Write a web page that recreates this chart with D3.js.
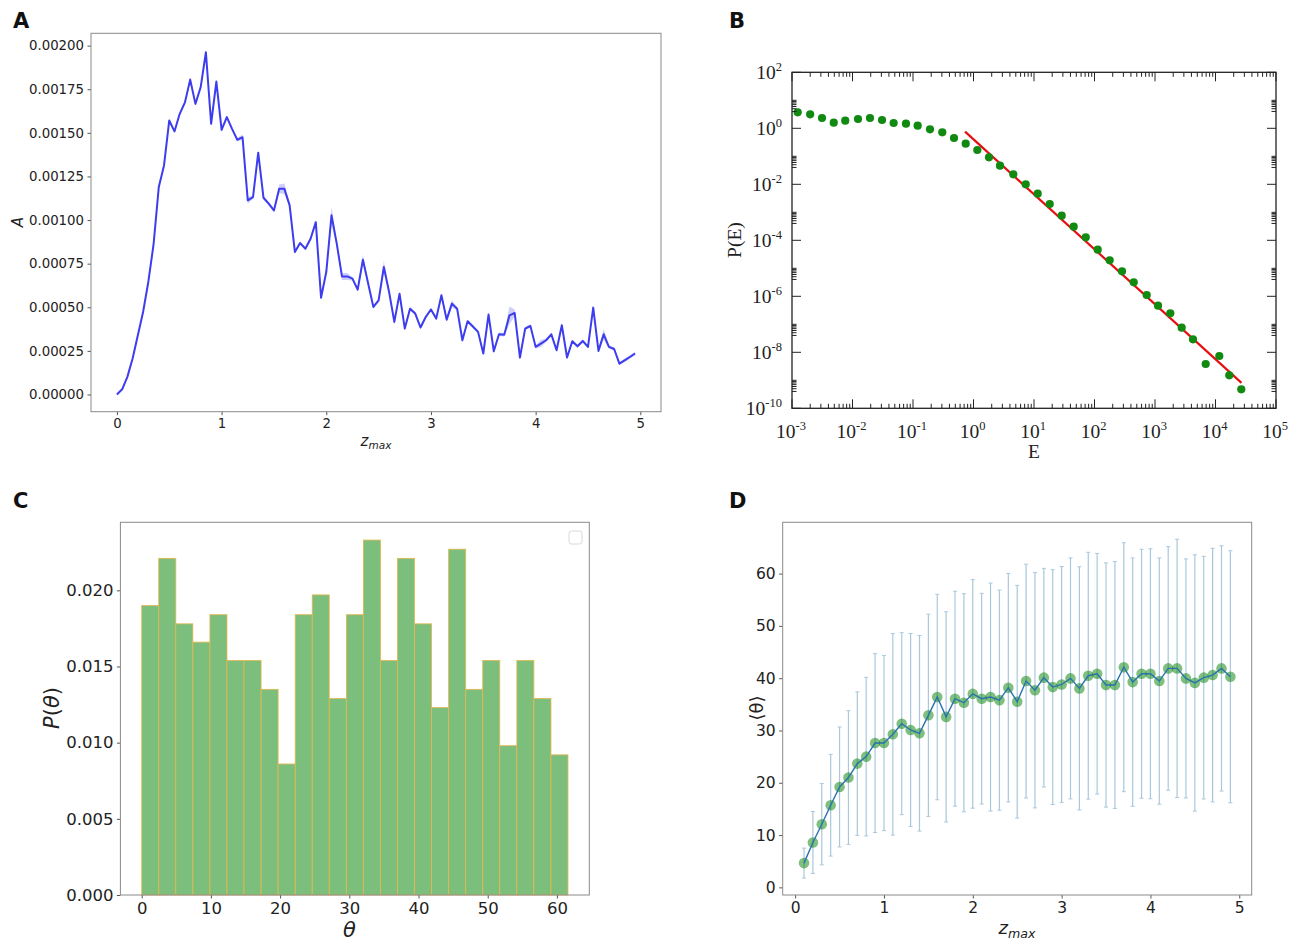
<!DOCTYPE html>
<html>
<head>
<meta charset="utf-8">
<script src="https://d3js.org/d3.v7.min.js"></script>
<style>
  body { margin: 0; background: #fff; }
  svg { display: block; }
  .mpl text { font-family: 'DejaVu Sans', sans-serif; fill: #222; }
  .grace text { font-family: 'Liberation Serif', 'Times New Roman', serif; fill: #222; }
  .letter { font-family: 'DejaVu Sans', sans-serif; font-weight: bold; font-size: 21px; fill: #111; }
</style>
</head>
<body>
<svg width="1302" height="944"></svg>
<script>
// ---- panel A : A vs z_max (values in units of 1e-3) ----
const zA = [0, 0.05, 0.1, 0.15, 0.2, 0.25, 0.3, 0.35, 0.4, 0.45,
  0.5, 0.55, 0.6, 0.65, 0.7, 0.75, 0.8, 0.85, 0.9, 0.95,
  1, 1.05, 1.1, 1.15, 1.2, 1.25, 1.3, 1.35, 1.4, 1.45,
  1.5, 1.55, 1.6, 1.65, 1.7, 1.75, 1.8, 1.85, 1.9, 1.95,
  2, 2.05, 2.1, 2.15, 2.2, 2.25, 2.3, 2.35, 2.4, 2.45,
  2.5, 2.55, 2.6, 2.65, 2.7, 2.75, 2.8, 2.85, 2.9, 2.95,
  3, 3.05, 3.1, 3.15, 3.2, 3.25, 3.3, 3.35, 3.4, 3.45,
  3.5, 3.55, 3.6, 3.65, 3.7, 3.75, 3.8, 3.85, 3.9, 3.95,
  4, 4.05, 4.1, 4.15, 4.2, 4.25, 4.3, 4.35, 4.4, 4.45,
  4.5, 4.55, 4.6, 4.65, 4.7, 4.75, 4.8, 4.85, 4.9, 4.95]
const valA = [0, 0.030, 0.101, 0.206, 0.340, 0.473, 0.645, 0.860, 1.189, 1.313,
  1.571, 1.508, 1.609, 1.675, 1.805, 1.666, 1.761, 1.962, 1.552, 1.794,
  1.517, 1.590, 1.523, 1.460, 1.475, 1.113, 1.131, 1.386, 1.128, 1.094,
  1.055, 1.179, 1.179, 1.084, 0.817, 0.868, 0.836, 0.893, 0.988, 0.555,
  0.702, 1.027, 0.865, 0.677, 0.677, 0.664, 0.601, 0.773, 0.636, 0.502,
  0.540, 0.731, 0.588, 0.416, 0.578, 0.378, 0.492, 0.464, 0.384, 0.444,
  0.487, 0.435, 0.569, 0.429, 0.521, 0.492, 0.311, 0.420, 0.390, 0.359,
  0.235, 0.458, 0.248, 0.345, 0.343, 0.454, 0.467, 0.212, 0.378, 0.393,
  0.273, 0.292, 0.311, 0.345, 0.254, 0.397, 0.212, 0.305, 0.277, 0.307,
  0.273, 0.498, 0.250, 0.345, 0.273, 0.261, 0.177, 0.196, 0.215, 0.235]
const ciA = [0.004, 0.005, 0.006, 0.006, 0.007, 0.007, 0.008, 0.008, 0.008, 0.008,
  0.008, 0.008, 0.008, 0.010, 0.020, 0.010, 0.008, 0.010, 0.010, 0.010,
  0.008, 0.008, 0.008, 0.010, 0.015, 0.020, 0.010, 0.010, 0.012, 0.010,
  0.010, 0.025, 0.030, 0.010, 0.010, 0.010, 0.010, 0.010, 0.010, 0.010,
  0.010, 0.050, 0.015, 0.020, 0.020, 0.010, 0.010, 0.030, 0.010, 0.010,
  0.010, 0.035, 0.010, 0.010, 0.010, 0.010, 0.010, 0.010, 0.010, 0.010,
  0.010, 0.010, 0.015, 0.010, 0.020, 0.010, 0.010, 0.010, 0.010, 0.010,
  0.010, 0.010, 0.010, 0.010, 0.010, 0.050, 0.020, 0.010, 0.010, 0.010,
  0.010, 0.020, 0.010, 0.010, 0.010, 0.010, 0.010, 0.010, 0.010, 0.010,
  0.010, 0.010, 0.010, 0.030, 0.010, 0.010, 0.010, 0.010, 0.010, 0.010]
const xTicksA = [0, 1, 2, 3, 4, 5]
const yTicksA = [0, 0.00025, 0.0005, 0.00075, 0.001, 0.00125, 0.0015, 0.00175, 0.002]

// ---- panel B : P(E) vs E, log-log (log10 values) ----
const logE_B = [-2.906, -2.70, -2.504, -2.31, -2.12, -1.909, -1.711, -1.512, -1.32, -1.116,
  -0.923, -0.719, -0.516, -0.322, -0.129, 0.063, 0.256, 0.438, 0.658, 0.863,
  1.061, 1.26, 1.458, 1.656, 1.855, 2.053, 2.251, 2.455, 2.648, 2.863,
  3.05, 3.253, 3.441, 3.628, 3.838, 4.063, 4.228, 4.426]
const logP_B = [0.571, 0.50, 0.368, 0.20, 0.271, 0.332, 0.368, 0.296, 0.189, 0.164,
  0.093, -0.036, -0.143, -0.346, -0.55, -0.775, -1.036, -1.336, -1.643, -2.0,
  -2.336, -2.704, -3.12, -3.514, -3.893, -4.336, -4.714, -5.107, -5.5, -5.954,
  -6.336, -6.607, -7.121, -7.536, -8.418, -8.132, -8.821, -9.321]
const fitLogE_B = [-0.14, 4.43]
const fitLogP_B = [-0.12, -9.09]
const xExpB = [-3, -2, -1, 0, 1, 2, 3, 4, 5]
const yExpB = [-10, -8, -6, -4, -2, 0, 2]

// ---- panel C : histogram of theta ----
const binEdgesC = [0, 2.46, 4.93, 7.39, 9.86, 12.32, 14.78, 17.25, 19.71, 22.18,
  24.64, 27.10, 29.57, 32.03, 34.50, 36.96, 39.42, 41.89, 44.35, 46.82,
  49.28, 51.74, 54.21, 56.67, 59.14, 61.60]
const densC = [0.0190, 0.0221, 0.0178, 0.0166, 0.0184, 0.0154, 0.0154, 0.0135, 0.0086, 0.0184,
  0.0197, 0.0129, 0.0184, 0.0233, 0.0154, 0.0221, 0.0178, 0.0123, 0.0227, 0.0135,
  0.0154, 0.0098, 0.0154, 0.0129, 0.0092]
const xTicksC = [0, 10, 20, 30, 40, 50, 60]
const yTicksC = [0, 0.005, 0.01, 0.015, 0.02]

// ---- panel D : <theta> vs z_max with std error bars ----
const zD = [0.1, 0.2, 0.3, 0.4, 0.5, 0.6, 0.7, 0.8, 0.9, 1.0,
  1.1, 1.2, 1.3, 1.4, 1.5, 1.6, 1.7, 1.8, 1.9, 2.0,
  2.1, 2.2, 2.3, 2.4, 2.5, 2.6, 2.7, 2.8, 2.9, 3.0,
  3.1, 3.2, 3.3, 3.4, 3.5, 3.6, 3.7, 3.8, 3.9, 4.0,
  4.1, 4.2, 4.3, 4.4, 4.5, 4.6, 4.7, 4.8, 4.9]
const meanD = [4.64, 8.59, 12.08, 15.71, 19.2, 21.0, 23.67, 25.0, 27.6, 27.6,
  29.27, 31.3, 30.1, 29.46, 32.9, 36.4, 32.6, 36.08, 35.3, 37.0,
  36.08, 36.4, 35.8, 38.18, 35.5, 39.45, 37.7, 40.1, 38.3, 38.8,
  39.96, 38.05, 40.47, 40.85, 38.7, 38.7, 42.1, 39.25, 40.85, 40.85,
  39.45, 41.87, 41.87, 39.96, 39.1, 40.1, 40.6, 41.87, 40.28]
const stdD = [2.86, 5.92, 7.77, 9.73, 11.47, 12.78, 13.72, 15.17, 17.1, 16.75,
  19.26, 17.4, 18.45, 18.7, 19.33, 19.65, 20.1, 20.55, 20.85, 21.85,
  20.15, 21.8, 21.05, 21.85, 22.25, 22.35, 22.5, 20.9, 22.45, 22.55,
  23.05, 23.25, 23.6, 23.0, 23.35, 23.6, 23.8, 23.75, 23.8, 23.9,
  23.55, 23.3, 24.7, 22.85, 24.5, 23.2, 24.25, 23.45, 24.1]
const xTicksD = [0, 1, 2, 3, 4, 5]
const yTicksD = [0, 10, 20, 30, 40, 50, 60]

const svg = d3.select('svg')

// matplotlib-like padded domain (5% margins)
function pad(lo, hi) {
  const m = (hi - lo) * 0.05
  return [lo - m, hi + m]
}

function mplAxes(g, x, y, xTicks, yTicks, xFmt, yFmt, fs) {
  const [x0, x1] = x.range()
  const [y0, y1] = y.range()
  g.append('g')
    .attr('transform', `translate(0,${y0})`)
    .call(d3.axisBottom(x).tickValues(xTicks).tickFormat(xFmt).tickSize(3.5).tickPadding(3.5))
    .call(a => a.select('.domain').remove())
    .attr('font-size', fs).attr('font-family', null).attr('color', '#555')
  g.append('g')
    .attr('transform', `translate(${x0},0)`)
    .call(d3.axisLeft(y).tickValues(yTicks).tickFormat(yFmt).tickSize(3.5).tickPadding(3.5))
    .call(a => a.select('.domain').remove())
    .attr('font-size', fs).attr('font-family', null).attr('color', '#555')
  g.append('rect')
    .attr('x', x0).attr('y', y1)
    .attr('width', x1 - x0).attr('height', y0 - y1)
    .attr('fill', 'none').attr('stroke', '#8a8a8a').attr('stroke-width', 1)
}

function zmaxLabel(g, x, y, fs) {
  const t = g.append('text')
    .attr('x', x).attr('y', y)
    .attr('text-anchor', 'middle')
    .attr('font-size', fs)
    .attr('font-style', 'italic')
  t.append('tspan').text('z')
  t.append('tspan').attr('dy', fs * 0.22).attr('font-size', fs * 0.7).text('max')
}

// ================= Panel A =================
const gA = svg.append('g').attr('class', 'mpl')
const xA = d3.scaleLinear().domain(pad(d3.min(zA), d3.max(zA))).range([91, 661])
const yA = d3.scaleLinear()
  .domain(pad(0, d3.max(valA, (v, i) => (v + ciA[i]) * 1e-3)))
  .range([411.7, 33.3])

gA.append('path')
  .datum(zA.map((z, i) => [z, (valA[i] - ciA[i]) * 1e-3, (valA[i] + ciA[i]) * 1e-3]))
  .attr('fill', 'rgba(60,60,240,0.25)')
  .attr('d', d3.area().x(d => xA(d[0])).y0(d => yA(d[1])).y1(d => yA(d[2])))

gA.append('path')
  .datum(zA.map((z, i) => [z, valA[i] * 1e-3]))
  .attr('fill', 'none')
  .attr('stroke', '#3d3def')
  .attr('stroke-width', 2)
  .attr('stroke-linejoin', 'round')
  .attr('d', d3.line().x(d => xA(d[0])).y(d => yA(d[1])))

mplAxes(gA, xA, yA, xTicksA, yTicksA, d3.format('d'), d3.format('.5f'), 13.3)
zmaxLabel(gA, 376, 446, 15)
gA.append('text')
  .attr('transform', 'translate(23,222) rotate(-90)')
  .attr('text-anchor', 'middle')
  .attr('font-size', 15)
  .attr('font-style', 'italic')
  .text('A')

// ================= Panel B =================
const gB = svg.append('g').attr('class', 'grace')
const xB = d3.scaleLog().domain([1e-3, 1e5]).range([792, 1276])
const yB = d3.scaleLog().domain([1e-10, 1e2]).range([408.3, 72.3])
const [bx0, bx1] = xB.range()
const [by0, by1] = yB.range()

gB.append('path')
  .datum(fitLogE_B.map((e, i) => [10 ** e, 10 ** fitLogP_B[i]]))
  .attr('fill', 'none')
  .attr('stroke', '#e41010')
  .attr('stroke-width', 2.2)
  .attr('d', d3.line().x(d => xB(d[0])).y(d => yB(d[1])))

gB.selectAll('.dotB')
  .data(logE_B.map((e, i) => [10 ** e, 10 ** logP_B[i]]))
  .enter()
  .append('circle')
    .attr('class', 'dotB')
    .attr('cx', d => xB(d[0]))
    .attr('cy', d => yB(d[1]))
    .attr('r', 4.1)
    .attr('fill', '#118a11')

const tickB = []
xExpB.forEach(e => {
  const px = xB(10 ** e)
  tickB.push([px, by0, px, by0 - 9], [px, by1, px, by1 + 9])
  if (e < 5) {
    for (let k = 2; k <= 9; k++) {
      const mx = xB(k * 10 ** e)
      tickB.push([mx, by0, mx, by0 - 4.5], [mx, by1, mx, by1 + 4.5])
    }
  }
})
yExpB.forEach(e => {
  const py = yB(10 ** e)
  tickB.push([bx0, py, bx0 + 9, py], [bx1, py, bx1 - 9, py])
  if (e < 2) {
    for (let k = 4; k <= 10; k++) {
      const my = yB(k * 10 ** e)
      tickB.push([bx0, my, bx0 + 4.5, my], [bx1, my, bx1 - 4.5, my])
    }
  }
})
gB.selectAll('.tickB')
  .data(tickB)
  .enter()
  .append('line')
    .attr('class', 'tickB')
    .attr('x1', d => d[0]).attr('y1', d => d[1])
    .attr('x2', d => d[2]).attr('y2', d => d[3])
    .attr('stroke', '#222').attr('stroke-width', 1)

gB.append('rect')
  .attr('x', bx0).attr('y', by1)
  .attr('width', bx1 - bx0).attr('height', by0 - by1)
  .attr('fill', 'none').attr('stroke', '#222').attr('stroke-width', 1.3)

function powLabel(sel, e) {
  sel.append('tspan').text('10')
  sel.append('tspan').attr('dy', -8).attr('font-size', 12.5).text(e)
}

xExpB.forEach(e => {
  gB.append('text')
    .attr('x', xB(10 ** e) - 1)
    .attr('y', 438)
    .attr('text-anchor', 'middle')
    .attr('font-size', 19.5)
    .call(s => powLabel(s, e))
})
yExpB.forEach(e => {
  gB.append('text')
    .attr('x', 782)
    .attr('y', yB(10 ** e) + 6.5)
    .attr('text-anchor', 'end')
    .attr('font-size', 19.5)
    .call(s => powLabel(s, e))
})
gB.append('text')
  .attr('x', 1034).attr('y', 458)
  .attr('text-anchor', 'middle')
  .attr('font-size', 19.5)
  .text('E')
gB.append('text')
  .attr('transform', 'translate(741,240) rotate(-90)')
  .attr('text-anchor', 'middle')
  .attr('font-size', 19.5)
  .text('P(E)')

// ================= Panel C =================
const gC = svg.append('g').attr('class', 'mpl')
const xC = d3.scaleLinear()
  .domain(pad(binEdgesC[0], binEdgesC[binEdgesC.length - 1]))
  .range([120.4, 589.3])
const yC = d3.scaleLinear().domain([0, d3.max(densC) * 1.05]).range([895, 522.3])

gC.selectAll('.barC')
  .data(densC)
  .enter()
  .append('rect')
    .attr('class', 'barC')
    .attr('x', (d, i) => xC(binEdgesC[i]))
    .attr('width', (d, i) => xC(binEdgesC[i + 1]) - xC(binEdgesC[i]))
    .attr('y', d => yC(d))
    .attr('height', d => yC(0) - yC(d))
    .attr('fill', '#7cbf7c')
    .attr('stroke', '#e8b64c')
    .attr('stroke-width', 0.8)

mplAxes(gC, xC, yC, xTicksC, yTicksC, d3.format('d'), d3.format('.3f'), 16.5)

gC.append('rect')
  .attr('x', 569).attr('y', 531)
  .attr('width', 13).attr('height', 13)
  .attr('rx', 2.5)
  .attr('fill', '#fff').attr('stroke', '#d8d8d8').attr('stroke-width', 1)

gC.append('text')
  .attr('x', xC(30)).attr('y', 937)
  .attr('text-anchor', 'middle')
  .attr('font-size', 21)
  .attr('font-style', 'italic')
  .text('θ')
const pt = gC.append('text')
  .attr('transform', 'translate(59,708) rotate(-90)')
  .attr('text-anchor', 'middle')
  .attr('font-size', 21)
pt.append('tspan').attr('font-style', 'italic').text('P')
pt.append('tspan').text('(')
pt.append('tspan').attr('font-style', 'italic').text('θ')
pt.append('tspan').text(')')

// ================= Panel D =================
const gD = svg.append('g').attr('class', 'mpl')
const xD = d3.scaleLinear().domain(pad(d3.min(zD), d3.max(zD))).range([782.7, 1251.7])
const yD = d3.scaleLinear()
  .domain(pad(d3.min(meanD, (m, i) => m - stdD[i]), d3.max(meanD, (m, i) => m + stdD[i])))
  .range([895, 522.3])

const errD = zD.map((z, i) => ({ z: z, lo: meanD[i] - stdD[i], hi: meanD[i] + stdD[i] }))
gD.selectAll('.errD')
  .data(errD)
  .enter()
  .append('line')
    .attr('class', 'errD')
    .attr('x1', d => xD(d.z)).attr('x2', d => xD(d.z))
    .attr('y1', d => yD(d.lo)).attr('y2', d => yD(d.hi))
    .attr('stroke', '#a9c8dd').attr('stroke-width', 1.2)
gD.selectAll('.capD')
  .data(errD.flatMap(d => [[d.z, d.lo], [d.z, d.hi]]))
  .enter()
  .append('line')
    .attr('class', 'capD')
    .attr('x1', d => xD(d[0]) - 2).attr('x2', d => xD(d[0]) + 2)
    .attr('y1', d => yD(d[1])).attr('y2', d => yD(d[1]))
    .attr('stroke', '#a9c8dd').attr('stroke-width', 1)

gD.selectAll('.dotD')
  .data(zD.map((z, i) => [z, meanD[i]]))
  .enter()
  .append('circle')
    .attr('class', 'dotD')
    .attr('cx', d => xD(d[0]))
    .attr('cy', d => yD(d[1]))
    .attr('r', 5.3)
    .attr('fill', 'green')
    .attr('fill-opacity', 0.5)

gD.append('path')
  .datum(zD.map((z, i) => [z, meanD[i]]))
  .attr('fill', 'none')
  .attr('stroke', '#2a72ad')
  .attr('stroke-width', 1.4)
  .attr('d', d3.line().x(d => xD(d[0])).y(d => yD(d[1])))

mplAxes(gD, xD, yD, xTicksD, yTicksD, d3.format('d'), d3.format('d'), 15.5)
zmaxLabel(gD, 1017, 934, 18)
gD.append('text')
  .attr('transform', 'translate(763,708) rotate(-90)')
  .attr('text-anchor', 'middle')
  .attr('font-size', 18)
  .text('⟨θ⟩')

// panel letters
svg.selectAll('.letter')
  .data([['A', 13, 28], ['B', 729, 28], ['C', 13, 508], ['D', 729, 508]])
  .enter()
  .append('text')
    .attr('class', 'letter')
    .attr('x', d => d[1])
    .attr('y', d => d[2])
    .text(d => d[0])
</script>
</body>
</html>
